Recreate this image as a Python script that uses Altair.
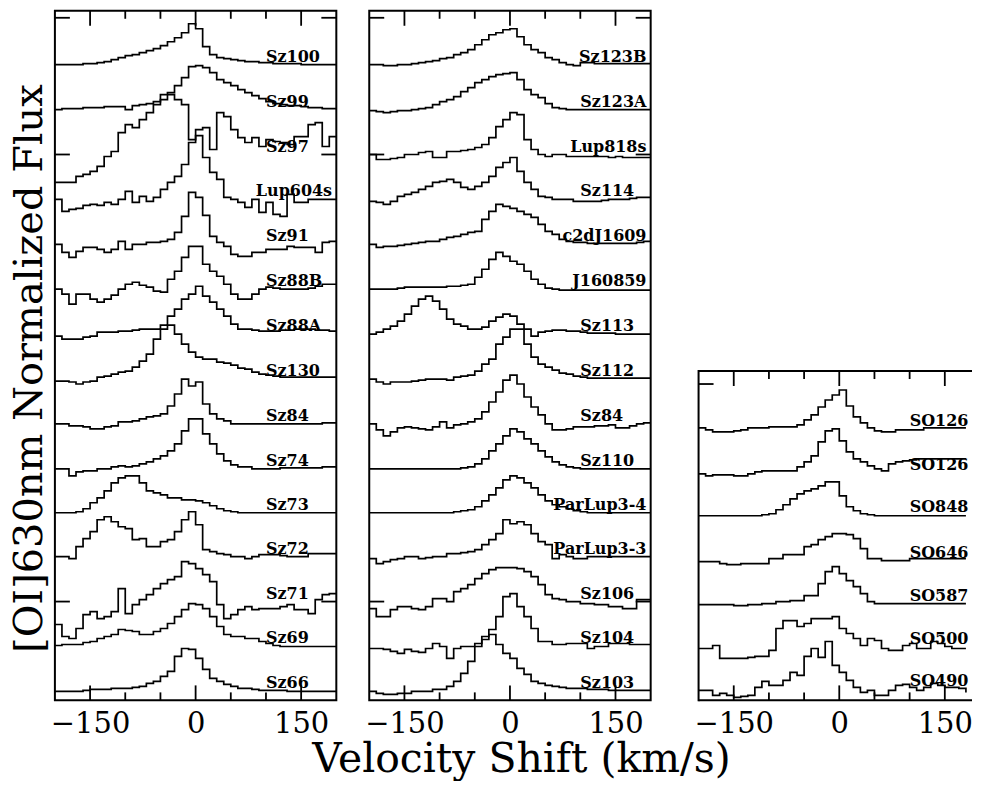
import altair as alt
import pandas as pd

# ---------------- velocity grid (bin edges, km/s) ----------------
VEL_EDGES = list(range(-200, 201, 10))

# ---------------- panel 1 spectra (flux above continuum, arbitrary units) ----------------
SZ100 = [0,0,0,0,1,1,2,3,5,7, 9,10,12,14,16,19,23,27,32,41, 36,18,10,7,6,5,4,3,3,2, 2,1,1,1,1,0,0,0,0,0]
SZ99 = [0,1,1,1,2,2,2,3,3,3, 0,4,5,6,8,10,17,24,32,43, 44,42,37,30,27,24,20,17,14,11, 8,6,5,4,4,3,2,2,1,1]
SZ97 = [-28,-28,-28,-22,-20,-17,-12,-2,3,22, 30,27,35,42,50,60,60,55,50,15, 25,27,5,42,38,25,17,12,17,8, 15,13,12,10,18,18,30,32,8,18]
LUP604S = [0,-12,-10,-9,-6,-5,-6,-3,-5,0, 8,-3,3,-2,2,10,17,23,35,57, 64,42,27,20,2,0,-3,-8,0,-13, -3,-15,-17,5,-3,-3,0,0,0,0]
SZ91 = [0,-8,-13,-7,-3,-3,-5,-8,-5,3, -5,0,0,2,2,3,5,12,28,52, 47,29,8,2,-2,-10,-12,-12,-8,-8, -5,-5,-5,-2,-3,-3,-3,-8,2,3]
SZ88B = [0,-5,-15,-5,-5,-10,-13,-10,-6,0, 5,7,4,2,-2,-3,10,18,32,43, 43,25,18,13,5,-5,-10,-10,-5,0, 2,1,0,0,0,0,1,3,5,5]
SZ88A = [-2,-5,-5,-5,-3,-2,2,2,2,3, 3,4,5,5,5,9,18,25,35,40, 48,38,32,25,18,10,5,5,4,3, 3,3,4,4,5,5,5,4,4,3]
SZ130 = [-2,-2,-3,-5,-3,-2,2,3,5,7, 8,12,18,25,40,50,54,45,35,27, 22,20,20,17,16,14,11,10,7,5, 4,3,2,2,2,2,2,2,2,2]
SZ84_A = [0,0,-2,-2,-3,-5,-5,-3,-2,2, 2,3,5,7,8,10,18,30,45,38, 42,20,10,5,3,0,0,0,0,0, 0,0,0,0,0,0,0,0,1,1]
SZ74 = [0,0,-7,-3,-2,-2,0,0,2,3, 2,3,5,7,10,13,18,25,38,50, 50,35,25,15,8,4,2,2,0,0, 0,0,1,1,1,1,1,1,2,2]
SZ73 = [0,0,0,1,4,10,15,22,30,35, 37,37,30,22,20,18,15,15,13,13, 12,10,7,4,2,1,0,0,0,0, 0,0,0,0,0,0,0,0,0,0]
SZ72 = [0,0,-2,10,18,25,37,40,35,30, 28,17,18,10,10,15,17,25,37,45, 32,7,5,3,2,0,0,-2,0,2, 2,2,1,0,0,0,3,3,3,3]
SZ71 = [-23,-35,-37,-27,-13,-10,-17,-15,-10,13, -12,-3,2,7,13,18,22,25,40,38, 33,27,20,-3,-17,-13,-8,-5,-8,-7, -7,-7,-5,-3,-8,-8,-12,2,7,8]
SZ69 = [1,2,2,2,4,5,8,10,12,17, 16,15,12,12,15,18,23,30,37,43, 42,38,30,20,12,10,10,8,8,5, 3,1,0,0,0,0,0,0,0,0]
SZ66 = [0,0,0,0,1,2,2,2,3,3, 3,4,5,8,10,15,20,35,43,42, 33,22,13,10,7,5,3,3,2,1, 1,1,1,0,0,0,0,0,0,0]

# ---------------- panel 2 spectra ----------------
SZ123B = [0,0,-1,-1,0,0,1,2,3,4, 6,7,10,12,15,20,25,30,32,35, 36,28,20,15,12,7,5,2,0,-1, 2,2,1,1,1,1,1,1,1,1]
SZ123A = [-1,-2,-3,-2,-1,-1,0,1,2,5, 8,10,13,18,22,27,30,33,35,36, 37,30,20,15,12,6,2,1,0,0, 0,0,0,0,0,0,0,0,0,0]
LUP818S = [0,-5,-5,-4,-3,0,0,2,3,-3, -3,3,3,4,5,7,10,17,28,35, 42,40,15,5,0,-2,0,0,-2,-2, -2,-2,-2,-2,-3,-2,-3,-3,-3,-3]
SZ114 = [-2,-3,-5,-2,3,5,7,10,13,17, 18,20,17,12,10,13,17,23,32,37, 42,28,17,10,3,2,0,0,0,-2, -2,-2,-2,-1,0,0,0,1,2,2]
C2DJ1609 = [0,-3,-2,-2,-1,0,1,2,3,3, 5,7,8,10,12,13,25,33,40,38, 36,33,30,27,20,13,10,5,3,2, 2,1,1,1,1,1,1,1,2,3]
J160859 = [0,0,0,0,1,2,2,2,2,2, 2,3,3,4,5,12,20,30,37,33, 28,25,18,10,5,1,0,-1,-1,-1, -1,-1,-1,-1,-1,-1,-1,-1,-1,-1]
SZ113 = [0,2,5,8,13,20,28,35,38,33, 25,15,10,8,5,5,7,13,17,20, 18,10,5,-2,2,3,4,4,3,3, 2,1,1,1,1,0,0,0,0,0]
SZ112 = [0,-3,-5,-3,-3,-3,-2,-1,0,0, 0,-1,2,3,4,8,15,20,35,42, 50,50,35,22,15,12,9,6,5,3, 2,1,1,1,1,1,1,1,1,1]
SZ84_B = [0,-6,-12,-8,-4,-3,-4,-5,-6,-3, 2,-4,-1,0,2,5,12,22,32,44, 49,40,27,17,9,0,-6,-6,-5,-3, -3,-3,-2,-2,-1,-4,-4,-2,0,1]
SZ110 = [0,0,0,0,0,0,0,0,0,0, 0,0,0,1,2,5,10,18,25,33, 40,37,30,25,18,12,7,4,2,1, 0,0,0,0,0,0,0,0,0,0]
PARLUP3_4 = [0,0,0,0,0,0,0,0,0,0, 0,0,1,2,3,6,12,18,25,33, 37,35,30,25,18,12,8,6,4,2, 1,0,0,0,0,0,0,0,0,0]
PARLUP3_3 = [-2,-7,-5,-3,-2,0,0,-2,-1,0, 0,3,3,4,5,7,12,17,23,37, 33,35,32,23,15,12,-2,2,0,-2, -2,0,0,0,0,0,0,0,0,0]
SZ106 = [-7,-15,-15,-8,-5,-5,-7,-8,-5,3, 3,0,10,13,17,23,28,32,34,34, 34,33,30,25,17,7,3,2,0,0, -2,-2,-3,-3,-5,-5,-7,-7,2,2]
SZ104 = [-2,-2,-3,-5,-7,-3,-5,-6,-2,3, 0,-12,-2,0,0,3,10,17,30,50, 53,40,30,18,5,5,2,2,3,3, 3,-2,0,0,3,3,3,2,2,2]
SZ103 = [0,-2,-3,-3,-2,-2,0,0,0,2, 2,5,10,18,30,45,52,57,47,38, 33,23,17,10,8,6,5,4,3,3, 3,2,2,2,1,1,1,1,1,1]

# ---------------- panel 3 spectra ----------------
SO1266 = [2,0,-2,-2,-2,-1,0,2,2,2, 3,3,3,3,5,10,15,23,30,35, 40,24,13,7,2,-1,-2,-2,0,0, 0,0,2,2,2,2,2,2,2,2]
SO1260 = [0,-2,-1,-1,-1,-2,-2,0,2,3, 3,3,3,3,7,12,18,32,43,45, 33,22,15,12,8,5,3,10,12,13, 14,15,15,15,15,15,15,15,15,15]
SO848 = [0,0,0,0,0,0,0,0,0,1, 2,6,11,17,22,25,27,30,34,34, 20,9,5,2,1,0,0,0,0,0, 0,0,0,0,0,0,0,0,0,0]
SO646 = [0,0,0,-2,-3,-3,-2,-2,-2,-2, 3,3,7,7,7,15,17,22,25,28, 28,27,23,13,3,3,1,1,1,1, 3,3,3,3,3,3,3,3,3,3]
SO587 = [0,0,0,0,0,-1,-1,0,0,1, 1,3,3,4,4,9,9,21,33,38, 31,24,18,11,3,1,1,1,1,1, 1,1,1,1,1,1,1,1,1,1]
SO500 = [0,0,3,-10,-10,-10,-10,-9,-8,-8, -2,20,28,28,22,25,30,30,30,32, 20,15,10,3,10,8,0,-2,-2,3, 5,0,0,7,5,2,0,0,0,0]
SO490 = [0,0,-5,-3,-5,-7,-6,-5,3,9, 5,5,10,18,15,34,42,33,49,25, 18,10,3,-2,0,-5,-5,0,5,6, 3,0,3,7,5,3,3,2,-2,-2]

# ---------------- names and vertical offsets (top to bottom) ----------------
P1_NAMES = ["Sz100", "Sz99", "Sz97", "Lup604s", "Sz91", "Sz88B", "Sz88A", "Sz130",
            "Sz84", "Sz74", "Sz73", "Sz72", "Sz71", "Sz69", "Sz66"]
P1_SERIES = [SZ100, SZ99, SZ97, LUP604S, SZ91, SZ88B, SZ88A, SZ130,
             SZ84_A, SZ74, SZ73, SZ72, SZ71, SZ69, SZ66]
P2_NAMES = ["Sz123B", "Sz123A", "Lup818s", "Sz114", "c2dJ1609", "J160859", "Sz113", "Sz112",
            "Sz84", "Sz110", "ParLup3-4", "ParLup3-3", "Sz106", "Sz104", "Sz103"]
P2_SERIES = [SZ123B, SZ123A, LUP818S, SZ114, C2DJ1609, J160859, SZ113, SZ112,
             SZ84_B, SZ110, PARLUP3_4, PARLUP3_3, SZ106, SZ104, SZ103]
P3_NAMES = ["SO1266", "SO1260", "SO848", "SO646", "SO587", "SO500", "SO490"]
P3_SERIES = [SO1266, SO1260, SO848, SO646, SO587, SO500, SO490]

OFFSETS_12 = [637, 592, 547, 502, 457, 412, 367, 322, 277, 232, 188, 144, 99, 54, 9]
OFFSETS_3 = [271, 227, 185, 139, 96, 52, 10]
P3_TOP = 330          # flux level of the top of the third (shorter) frame

# axis ticks
X_MAJOR = [-150, 0, 150]
X_MINOR = [-100, -50, 50, 100]
Y_TICKS_12 = [684, 547, 99]
Y_TICKS_3 = [317]

FONT = "DejaVu Serif"
PW = 282
H = 691
PX_PER_KMS = PW / 400.0
P3_LEFT_GAP_PX = 15
P3_W = 289
P3_DOM = [-200 - P3_LEFT_GAP_PX / PX_PER_KMS, -200 - P3_LEFT_GAP_PX / PX_PER_KMS + P3_W / PX_PER_KMS]
LABEL_V_SHORT = 100
LABEL_V_LONG = 194


def spectra_df(names, series, offsets):
    rows = []
    for name, vals, off in zip(names, series, offsets):
        for k, v in enumerate(VEL_EDGES):
            rows.append({"name": name, "v": v, "flux": off + vals[min(k, len(vals) - 1)]})
    return pd.DataFrame(rows)


def labels_df(names, offsets, dy, partial):
    rows = []
    for name, off in zip(names, offsets):
        lg = len(name) > 5 and not partial
        rows.append({"name": name, "v": LABEL_V_LONG if lg else LABEL_V_SHORT, "flux": off + dy, "long": lg})
    return pd.DataFrame(rows)


def x_axis(title=None):
    kw = dict(values=X_MAJOR, ticks=False, tickSize=0, domain=False, grid=False,
              labelFont=FONT, labelFontSize=29, labelPadding=9, labelColor="black",
              labelFlush=False, labelOverlap=False)
    if title:
        kw.update(title=title, titleFont=FONT, titleFontSize=41, titleFontWeight="normal",
                  titleColor="black", titleX=152, titleY=71, titleBaseline="alphabetic",
                  titleAlign="center")
    else:
        kw["title"] = None
    return alt.Axis(**kw)


def panel(names, series, offsets, yticks, xax, yax, dy, xdom, width, frame_top=None):
    partial = frame_top is not None
    sdf = spectra_df(names, series, offsets)
    ldf = labels_df(names, offsets, dy, partial)
    top_px = (H - frame_top) if partial else 0
    left_px = (-200 - xdom[0]) * PX_PER_KMS
    X = alt.X("v:Q", scale=alt.Scale(domain=xdom, nice=False, zero=False), axis=xax)
    Y = alt.Y("flux:Q", scale=alt.Scale(domain=[0, H], nice=False, zero=False), axis=yax)
    lines = alt.Chart(sdf)
    if partial:
        lines = lines.transform_filter(alt.datum.v <= xdom[1])
    lines = lines.mark_line(interpolate="step-after", color="black", strokeWidth=1.7,
                            clip=partial).encode(x=X, y=Y, detail="name:N", order="v:Q")
    tstyle = dict(baseline="alphabetic", font=FONT, fontWeight="bold", fontSize=16, color="black")
    if partial:
        tstyle.update(limit=(xdom[1] - LABEL_V_SHORT) * PX_PER_KMS - 1, ellipsis="\u200b")
    short = alt.Chart(ldf).transform_filter("!datum.long").mark_text(align="left", **tstyle).encode(
        x=X, y=Y, text="name:N")
    longl = alt.Chart(ldf).transform_filter("datum.long").mark_text(align="right", **tstyle).encode(
        x=X, y=Y, text="name:N")
    layers = [lines, short, longl]
    maj = pd.DataFrame({"v": X_MAJOR})
    mnr = pd.DataFrame({"v": X_MINOR})
    rs = dict(color="black", strokeWidth=1.8)
    layers.append(alt.Chart(maj).mark_rule(**rs).encode(x=X, y=alt.value(top_px), y2=alt.value(top_px + 15)))
    layers.append(alt.Chart(mnr).mark_rule(**rs).encode(x=X, y=alt.value(top_px), y2=alt.value(top_px + 8)))
    layers.append(alt.Chart(maj).mark_rule(**rs).encode(x=X, y=alt.value(H - 15), y2=alt.value(H)))
    layers.append(alt.Chart(mnr).mark_rule(**rs).encode(x=X, y=alt.value(H - 8), y2=alt.value(H)))
    ydf = pd.DataFrame({"flux": yticks})
    layers.append(alt.Chart(ydf).mark_rule(**rs).encode(y=Y, x=alt.value(left_px), x2=alt.value(left_px + 15)))
    props = dict(width=width, height=H)
    if partial:
        one = pd.DataFrame({"a": [0]})
        fs = dict(color="black", strokeWidth=2)
        layers.append(alt.Chart(one).mark_rule(**fs).encode(
            x=alt.value(left_px), x2=alt.value(width), y=alt.value(top_px)))
        layers.append(alt.Chart(one).mark_rule(**fs).encode(
            x=alt.value(left_px), x2=alt.value(width), y=alt.value(H)))
        layers.append(alt.Chart(one).mark_rule(**fs).encode(
            x=alt.value(left_px), y=alt.value(top_px - 1), y2=alt.value(H + 1)))
        props["view"] = alt.ViewBackground(strokeOpacity=0, strokeWidth=0)
    else:
        layers.append(alt.Chart(ydf).mark_rule(**rs).encode(y=Y, x=alt.value(width - 15), x2=alt.value(width)))
    return alt.layer(*layers).properties(**props)


yax1 = alt.Axis(title="[OI]630nm Normalized Flux", labels=False, ticks=False, domain=False, grid=False,
                titleFont=FONT, titleFontSize=40, titleFontWeight="normal", titleColor="black",
                titleX=-13, titleY=358, titleBaseline="alphabetic", titleAlign="center")

p1 = panel(P1_NAMES, P1_SERIES, OFFSETS_12, Y_TICKS_12, x_axis(), yax1, 3, [-200, 200], PW)
p2 = panel(P2_NAMES, P2_SERIES, OFFSETS_12, Y_TICKS_12, x_axis("Velocity Shift (km/s)"), None, 3,
           [-200, 200], PW)
p3 = panel(P3_NAMES, P3_SERIES, OFFSETS_3, Y_TICKS_3, x_axis(), None, 4, P3_DOM, P3_W, frame_top=P3_TOP)

chart = alt.hconcat(p1, p2, p3, spacing=33, bounds="flush").properties(
    padding={"left": 1, "top": 0, "right": 0, "bottom": 0},
    background="white",
).configure_view(stroke="black", strokeWidth=2)

chart.save("out.html", embed_options={"renderer": "svg", "actions": False})
